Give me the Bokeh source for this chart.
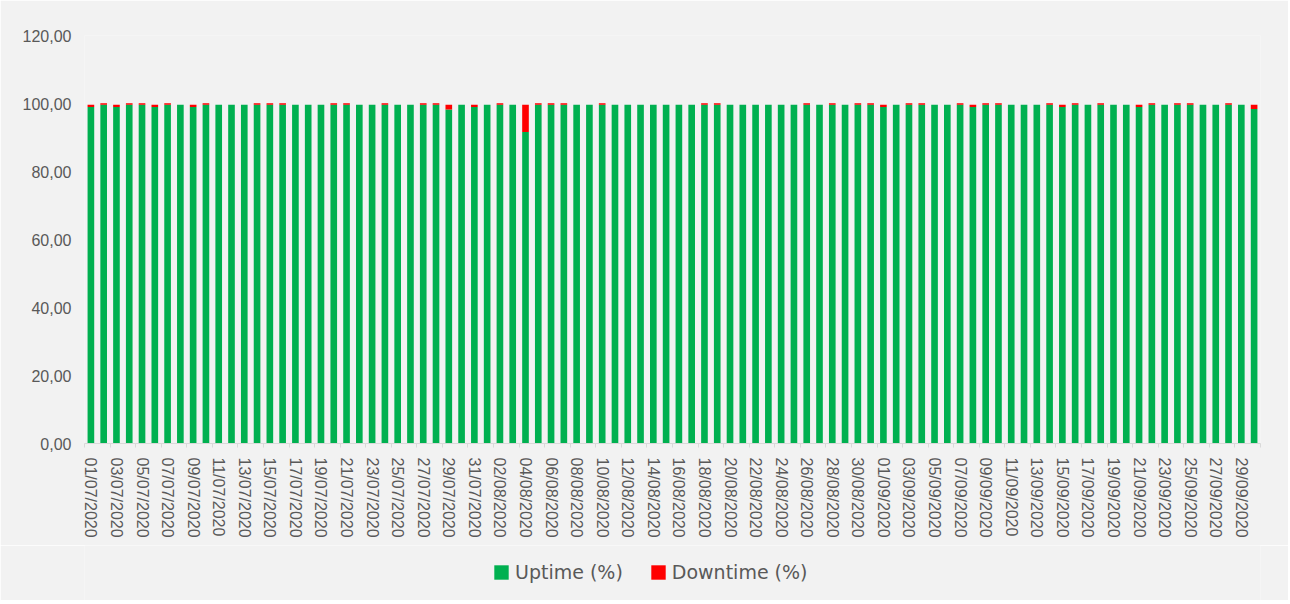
import pandas as pd
from bokeh.plotting import figure
from bokeh.layouts import column
from bokeh.models import ColumnDataSource, FixedTicker, Legend, LegendItem
from bokeh.embed import file_html
from bokeh.resources import INLINE

# ---- data -------------------------------------------------------------
dates = [d.strftime("%d/%m/%Y") for d in pd.date_range("2020-07-01", "2020-09-30")]

uptime = [
    99.0, 99.6, 99.0, 99.6, 99.6, 99.0, 99.6, 99.6, 99.0, 99.6,
    99.6, 99.6, 99.6, 99.6, 99.6, 99.6, 99.6, 99.6, 99.6, 99.6,
    99.6, 99.6, 99.6, 99.6, 99.6, 99.6, 99.6, 99.6, 98.2, 99.6,
    99.0, 99.6, 99.6, 99.6, 91.6, 99.6, 99.6, 99.6, 99.6, 99.6,
    99.6, 99.6, 99.6, 99.6, 99.6, 99.6, 99.6, 99.6, 99.6, 99.6,
    99.6, 99.6, 99.6, 99.6, 99.6, 99.6, 99.6, 99.6, 99.6, 99.6,
    99.6, 99.6, 99.0, 99.6, 99.6, 99.6, 99.6, 99.6, 99.6, 99.0,
    99.6, 99.6, 99.6, 99.6, 99.6, 99.6, 99.0, 99.6, 99.6, 99.6,
    99.6, 99.6, 99.0, 99.6, 99.6, 99.6, 99.6, 99.6, 99.6, 99.6,
    99.6, 98.4,
]
downtime = [
    0.6, 0.5, 0.6, 0.5, 0.5, 0.6, 0.5, 0.0, 0.6, 0.5,
    0.0, 0.0, 0.0, 0.5, 0.5, 0.5, 0.0, 0.0, 0.0, 0.5,
    0.5, 0.0, 0.0, 0.5, 0.0, 0.0, 0.5, 0.5, 1.4, 0.0,
    0.6, 0.0, 0.5, 0.0, 8.0, 0.5, 0.5, 0.5, 0.0, 0.0,
    0.5, 0.0, 0.0, 0.0, 0.0, 0.0, 0.0, 0.0, 0.5, 0.5,
    0.0, 0.0, 0.0, 0.0, 0.0, 0.0, 0.5, 0.0, 0.5, 0.0,
    0.5, 0.5, 0.6, 0.0, 0.5, 0.5, 0.0, 0.0, 0.5, 0.6,
    0.5, 0.5, 0.0, 0.0, 0.0, 0.5, 0.6, 0.5, 0.0, 0.5,
    0.0, 0.0, 0.6, 0.5, 0.0, 0.5, 0.5, 0.0, 0.0, 0.5,
    0.0, 1.2,
]

series_names = ["Uptime (%)", "Downtime (%)"]
series_colors = ["#00B050", "#FF0000"]

y_ticks = [0, 20, 40, 60, 80, 100, 120]
y_tick_labels = ["0,00", "20,00", "40,00", "60,00", "80,00", "100,00", "120,00"]

# ---- figure -----------------------------------------------------------
BG = "#F2F2F2"
TXT = "#595959"
AX = "#D9D9D9"
W = 1288

n = len(dates)
src = ColumnDataSource(dict(x=list(range(n)), date=dates, up=uptime, down=downtime))

p = figure(
    width=W, height=545,
    x_range=(-0.5, n - 0.5), y_range=(0, 120),
    output_backend="svg", toolbar_location=None,
    background_fill_color=BG, border_fill_color=BG,
    min_border_left=84, min_border_right=28, min_border_top=35, min_border_bottom=102,
)
p.outline_line_color = None
p.xgrid.visible = False
p.ygrid.visible = False

renderers = p.vbar_stack(["up", "down"], x="x", width=0.52, source=src,
                         color=series_colors, line_width=0)

# x axis: labels on every other day, tick marks on category boundaries
label_pos = list(range(0, n, 2))
boundaries = [i - 0.5 for i in range(0, n + 1, 2)]
p.xaxis.ticker = FixedTicker(ticks=label_pos, minor_ticks=boundaries)
p.xaxis.major_label_overrides = {i: dates[i] for i in label_pos}
p.xaxis.major_label_orientation = "vertical"
p.xaxis.major_tick_line_color = None
p.xaxis.major_tick_out = 0
p.xaxis.major_tick_in = 0
p.xaxis.minor_tick_line_color = AX
p.xaxis.minor_tick_out = 4
p.xaxis.minor_tick_in = 0
p.xaxis.axis_line_color = AX
p.xaxis.axis_line_width = 1
p.xaxis.major_label_standoff = 10
p.xaxis.major_label_text_font = "Liberation Sans"
p.xaxis.major_label_text_font_size = "16px"
p.xaxis.major_label_text_color = TXT

# y axis
p.yaxis.ticker = FixedTicker(ticks=y_ticks)
p.yaxis.major_label_overrides = dict(zip(y_ticks, y_tick_labels))
p.yaxis.axis_line_color = None
p.yaxis.major_tick_line_color = None
p.yaxis.minor_tick_line_color = None
p.yaxis.major_tick_out = 0
p.yaxis.major_tick_in = 0
p.yaxis.major_label_standoff = 13
p.yaxis.major_label_text_font = "Liberation Sans"
p.yaxis.major_label_text_font_size = "16px"
p.yaxis.major_label_text_color = TXT

# ---- legend strip below the chart -----------------------------------
# same series, kept out of view (range far above the data), only so that
# the legend has swatches
lg = figure(
    width=W, height=55, x_range=(-0.5, n - 0.5), y_range=(1000, 1001),
    output_backend="svg", toolbar_location=None,
    background_fill_color=BG, border_fill_color=BG, min_border=0,
)
lg.axis.visible = False
lg.grid.visible = False
lg.outline_line_color = None
swatches = lg.vbar_stack(["up", "down"], x="x", width=0.52, source=src,
                         color=series_colors, line_width=0)

legend = Legend(
    items=[LegendItem(label=series_names[0], renderers=[swatches[0]]),
           LegendItem(label=series_names[1], renderers=[swatches[1]])],
    orientation="horizontal",
    location=(408, 17),
    glyph_width=18, glyph_height=18,
    label_standoff=5, spacing=26,
    padding=0, margin=0,
    border_line_color=None, background_fill_alpha=0,
    label_text_font="DejaVu Sans", label_text_font_size="19px",
    label_text_color=TXT,
)
lg.add_layout(legend, "center")

layout = column(p, lg, spacing=0)
open("out.html", "w").write(file_html(layout, INLINE))
